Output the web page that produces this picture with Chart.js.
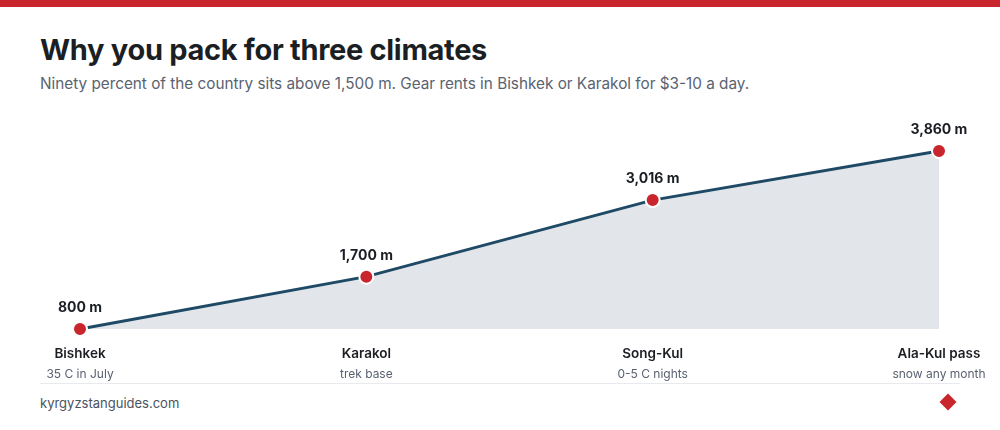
<!DOCTYPE html>
<html><head><meta charset="utf-8">
<script src="https://cdn.jsdelivr.net/npm/chart.js@4/dist/chart.umd.min.js"></script>
<style>
body{margin:0;width:1000px;height:430px;background:#fff;font-family:Inter,"Noto Sans",sans-serif;position:relative;overflow:hidden}
#bar{position:absolute;left:0;top:0;width:1000px;height:7px;background:#c8252c}
#t{position:absolute;left:40px;top:32px;font-size:29px;font-weight:700;color:#1b1f24;letter-spacing:-0.3px}
#s{position:absolute;left:40px;top:74px;font-size:15.3px;color:#5a6270}
#c{position:absolute;left:0;top:0}
#sep{position:absolute;left:40px;top:383px;width:920px;height:1px;background:#e8eaed}
#f{position:absolute;left:40px;top:395px;font-size:13px;color:#4a5260}
#d{position:absolute;left:942px;top:396px;width:12px;height:12px;background:#c8252c;transform:rotate(45deg)}
</style></head><body>
<div id="bar"></div>
<div id="t">Why you pack for three climates</div>
<div id="s">Ninety percent of the country sits above 1,500 m. Gear rents in Bishkek or Karakol for $3-10 a day.</div>
<div id="sep"></div>
<div id="f">kyrgyzstanguides.com</div>
<div id="d"></div>
<canvas id="c" width="1000" height="430"></canvas>
<script>
const places=["Bishkek","Karakol","Song-Kul","Ala-Kul pass"];
const notes=["35 C in July","trek base","0-5 C nights","snow any month"];
const elevations=[800,1700,3016,3860];
const valueLabels=["800 m","1,700 m","3,016 m","3,860 m"];
const labelsPlugin={id:"lbl",afterDatasetsDraw(ch){
 const ctx=ch.ctx,meta=ch.getDatasetMeta(0);
 ctx.save();ctx.textAlign="center";
 meta.data.forEach((p,i)=>{
  ctx.fillStyle="#1b1f24";ctx.font="700 14px Inter, sans-serif";ctx.textBaseline="alphabetic";
  ctx.fillText(valueLabels[i],p.x,p.y-17);
  ctx.font="600 13.5px Inter, sans-serif";ctx.fillText(places[i],p.x,358);
  ctx.fillStyle="#5a6270";ctx.font="12px Inter, sans-serif";ctx.fillText(notes[i],p.x,378);
 });ctx.restore();}};
new Chart(document.getElementById("c"),{type:"line",
 data:{labels:places,datasets:[{data:elevations,borderColor:"#1f4a66",borderWidth:3,fill:"start",backgroundColor:"#e2e6ea",clip:false,
  pointRadius:7,pointHoverRadius:7,pointBackgroundColor:"#c8252c",pointBorderColor:"#fff",pointBorderWidth:2,tension:0}]},
 options:{responsive:false,animation:false,events:[],
  layout:{padding:{left:80,right:61,top:151,bottom:101}},
  plugins:{legend:{display:false},tooltip:{enabled:false}},
  scales:{x:{display:false,offset:false},y:{display:false,min:800,max:3860}}},
 plugins:[labelsPlugin]});
</script></body></html>
